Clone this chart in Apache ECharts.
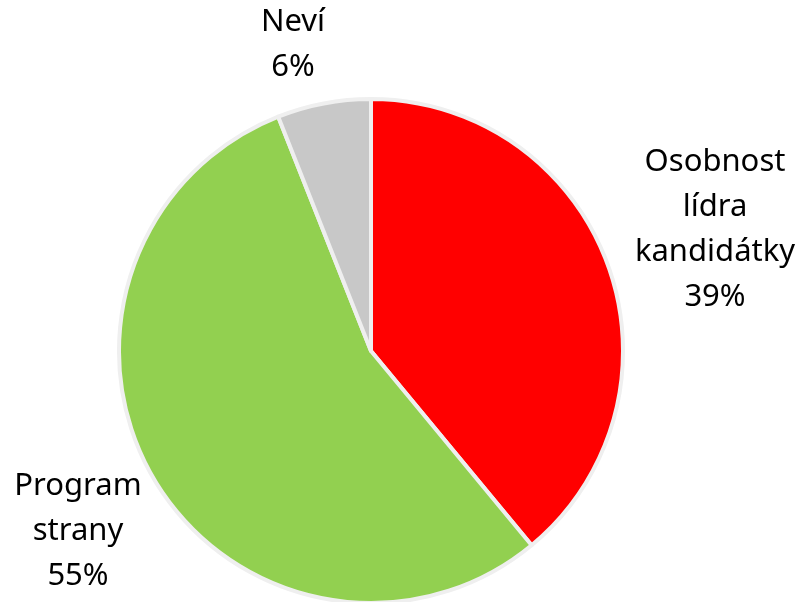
<!DOCTYPE html>
<html><head><meta charset="utf-8">
<script src="https://cdn.jsdelivr.net/npm/echarts@6/dist/echarts.min.js"></script>
<style>html,body{margin:0;padding:0;background:#fff}#c{width:802px;height:602px}</style>
</head><body><div id="c"></div>
<script>
const categories = ['Osobnost\nlídra\nkandidátky', 'Program\nstrany', 'Neví'];
const values = [39, 55, 6];
const colors = ['#ff0000', '#92d050', '#c8c8c8'];
const labelPos = [[715, 230], [78, 531], [293, 45]];

const chart = echarts.init(document.getElementById('c'), null, {renderer: 'canvas'});
chart.setOption({
  animation: false,
  series: [{
    type: 'pie',
    center: [371, 351],
    radius: 252,
    startAngle: 90,
    clockwise: true,
    data: categories.map((n, i) => ({name: n, value: values[i], itemStyle: {color: colors[i]}})),
    itemStyle: {borderColor: '#efefef', borderWidth: 4},
    label: {
      show: true,
      position: 'inside',
      overflow: 'none',
      formatter: p => p.name + '\n' + p.value + '%',
      fontFamily: 'Noto Sans',
      fontSize: 31,
      lineHeight: 45,
      color: '#000',
      textBorderWidth: 0,
      align: 'center'
    },
    labelLine: {show: false},
    labelLayout: p => ({x: labelPos[p.dataIndex][0], y: labelPos[p.dataIndex][1], align: 'center', verticalAlign: 'middle'})
  }]
});
</script></body></html>
